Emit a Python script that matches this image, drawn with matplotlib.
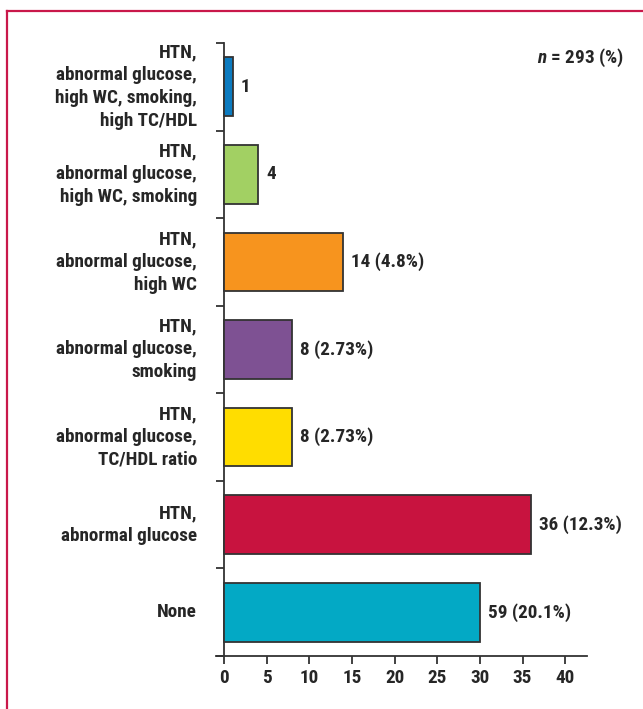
import numpy as np
import matplotlib.pyplot as plt
from matplotlib.lines import Line2D

plt.rcParams['font.family'] = ['Roboto Condensed', 'DejaVu Sans']
plt.rcParams['font.weight'] = 'bold'
plt.rcParams['mathtext.fontset'] = 'custom'
plt.rcParams['mathtext.it'] = 'Roboto Condensed:italic:bold'

# risk-factor combinations, bottom to top
groups = ["None",
          "HTN,\nabnormal glucose",
          "HTN,\nabnormal glucose,\nTC/HDL ratio",
          "HTN,\nabnormal glucose,\nsmoking",
          "HTN,\nabnormal glucose,\nhigh WC",
          "HTN,\nabnormal glucose,\nhigh WC, smoking",
          "HTN,\nabnormal glucose,\nhigh WC, smoking,\nhigh TC/HDL"]
bar_len = [30, 36, 8, 8, 14, 4, 1]
value_txt = ["59 (20.1%)", "36 (12.3%)", "8 (2.73%)", "8 (2.73%)",
             "14 (4.8%)", "4", "1"]
colors = ["#03a9c5", "#c8133f", "#ffdd00", "#7e5193",
          "#f7941e", "#a2d063", "#0c7bc0"]
xticks = [0, 5, 10, 15, 20, 25, 30, 35, 40]

ink = "#262626"
fs = 13.8
fig = plt.figure(figsize=(6.43, 7.09), dpi=100)
ax = fig.add_axes([215.5 / 643, 53 / 709, (586.5 - 215.5) / 643, (656 - 43) / 709])

y = np.arange(len(groups))
ax.barh(y, bar_len, height=0.67, color=colors, edgecolor="#333333", linewidth=1.3, zorder=3)

for yi, v, t in zip(y, bar_len, value_txt):
    ax.annotate(t, (v, yi), xytext=(8, 0), textcoords="offset pixels",
                ha="left", va="center", fontsize=fs, fontweight="bold", color=ink)

ax.set_xlim(-1, 42.5)
ax.set_ylim(-0.5, len(groups) - 0.5)
ax.spines['left'].set_position(('data', 0))
for s in ['top', 'right']:
    ax.spines[s].set_visible(False)
for s in ['left', 'bottom']:
    ax.spines[s].set_color("#333333")
    ax.spines[s].set_linewidth(1.3)

ax.set_yticks(y)
ax.set_yticklabels(groups, ha="right", va="center", fontsize=fs,
                   fontweight="bold", color=ink, linespacing=1.33)
ax.tick_params(axis='y', which='major', length=0, pad=19.5)
ax.set_yticks(np.arange(-0.5, len(groups)), minor=True)
ax.tick_params(axis='y', which='minor', length=6, width=1.3, color="#333333", direction='out')

ax.set_xticks(xticks)
ax.set_xticklabels([str(t) for t in xticks], fontsize=fs, fontweight="bold", color=ink)
ax.tick_params(axis='x', length=6, width=1.3, color="#333333", direction='out', pad=3.5)

fig.text(624 / 643, 1 - 58 / 709, r"$n$ = 293 (%)", ha="right", va="center",
         fontsize=fs, fontweight="bold", color=ink)

# crimson frame on the left and top
fx = 6.5 / 643
fy = 1 - 10.5 / 709
frame = "#c9184a"
fig.add_artist(Line2D([fx, fx], [0, fy], transform=fig.transFigure, color=frame, lw=1.6))
fig.add_artist(Line2D([fx, 1], [fy, fy], transform=fig.transFigure, color=frame, lw=1.6))

fig.savefig("out.png", dpi=100)
